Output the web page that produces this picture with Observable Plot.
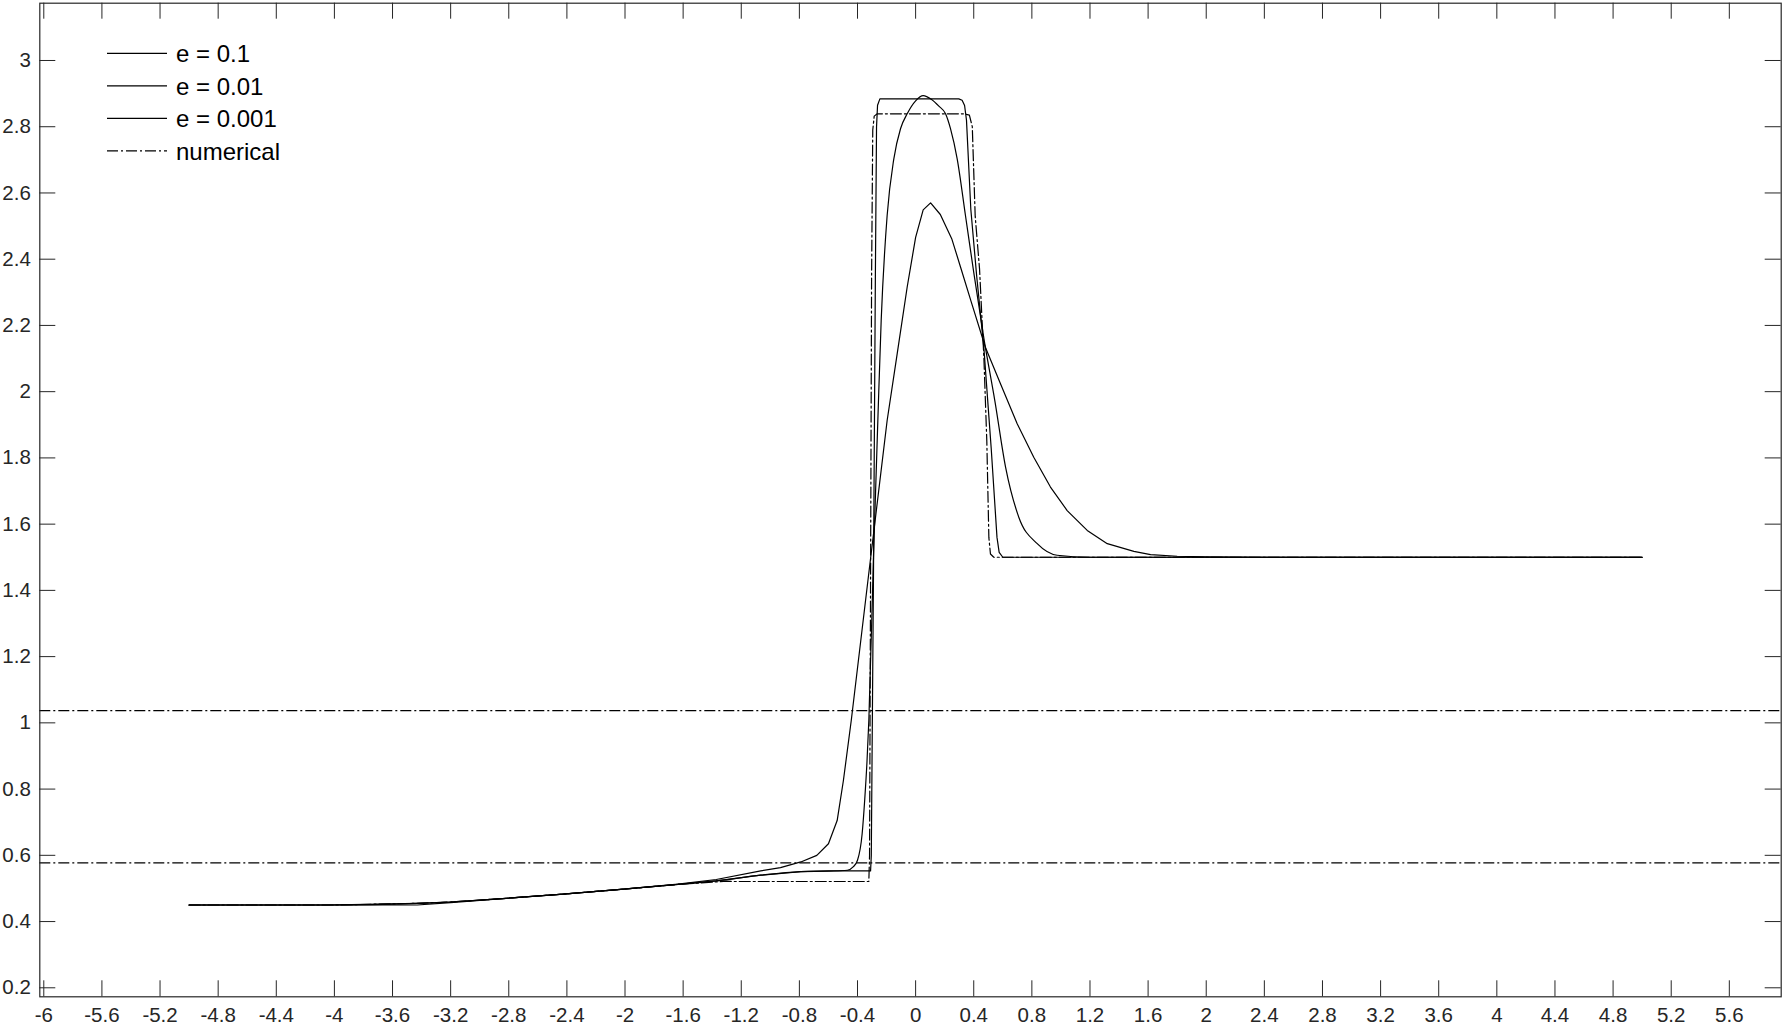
<!DOCTYPE html>
<html><head><meta charset="utf-8">
<script src="https://cdn.jsdelivr.net/npm/d3@7"></script>
<script src="https://cdn.jsdelivr.net/npm/@observablehq/plot@0.6"></script>
<style>
html,body{margin:0;padding:0;background:#fff;}
#wrap{position:relative;width:1784px;height:1029px;}
</style></head><body><div id="wrap"></div>
<script>
const xTicks = [-6,-5.6,-5.2,-4.8,-4.4,-4,-3.6,-3.2,-2.8,-2.4,-2,-1.6,-1.2,-0.8,-0.4,0,0.4,0.8,1.2,1.6,2,2.4,2.8,3.2,3.6,4,4.4,4.8,5.2,5.6];
const yTicks = [0.2,0.4,0.6,0.8,1,1.2,1.4,1.6,1.8,2,2.2,2.4,2.6,2.8,3];
const seriesNames = ["e = 0.1","e = 0.01","e = 0.001","numerical"];
const refLevels = [1.037, 0.5773];

const e01 = [[-5.0,0.450],[-4.06,0.450],[-3.43,0.455],[-3.2,0.459],[-2.82,0.470],[-2.425,0.483],[-2.03,0.497],[-1.635,0.513],[-1.372,0.527],[-1.066,0.553],[-0.93,0.563],[-0.79,0.580],[-0.68,0.600],[-0.6,0.635],[-0.54,0.705],[-0.497,0.826],[-0.443,1.007],[-0.32,1.46],[-0.196,1.913],[-0.127,2.114],[-0.058,2.316],[0.0,2.466],[0.052,2.549],[0.103,2.570],[0.17,2.535],[0.25,2.46],[0.31,2.375],[0.38,2.275],[0.48,2.134],[0.584,2.024],[0.699,1.903],[0.813,1.802],[0.928,1.712],[1.043,1.641],[1.181,1.581],[1.319,1.541],[1.502,1.518],[1.617,1.508],[1.8,1.503],[2.0,1.501],[2.4,1.5],[5.0,1.5]];

const e001 = [[-5.0,0.450],[-4.0,0.450],[-3.43,0.455],[-3.2,0.459],[-2.82,0.470],[-2.425,0.483],[-2.03,0.497],[-1.635,0.512],[-1.372,0.523],[-1.066,0.540],[-0.79,0.551],[-0.6,0.553],[-0.47,0.555],[-0.43,0.565],[-0.40,0.585],[-0.368,0.665],[-0.35,0.77],[-0.335,0.88],[-0.322,1.007],[-0.29,1.5],[-0.26,1.913],[-0.237,2.215],[-0.196,2.532],[-0.150,2.703],[-0.104,2.794],[-0.058,2.839],[0.0,2.878],[0.052,2.894],[0.11,2.882],[0.16,2.862],[0.206,2.839],[0.240,2.794],[0.286,2.703],[0.343,2.532],[0.40,2.36],[0.47,2.16],[0.545,1.973],[0.619,1.772],[0.71,1.621],[0.837,1.541],[0.974,1.506],[1.2,1.5],[5.0,1.5]];

const e0001 = [[-5.0,0.450],[-3.43,0.450],[-3.2,0.457],[-2.82,0.470],[-2.425,0.483],[-2.03,0.497],[-1.635,0.512],[-1.372,0.523],[-1.066,0.540],[-0.79,0.551],[-0.5,0.553],[-0.31,0.553],[-0.305,0.60],[-0.29,1.45],[-0.277,2.35],[-0.269,2.80],[-0.262,2.865],[-0.246,2.884],[0.297,2.884],[0.32,2.880],[0.337,2.864],[0.35,2.82],[0.38,2.55],[0.42,2.35],[0.47,2.13],[0.52,1.83],[0.56,1.56],[0.575,1.515],[0.60,1.5],[5.0,1.5]];

const numerical = [[-5.0,0.450],[-4.0,0.450],[-3.43,0.455],[-3.2,0.459],[-2.82,0.470],[-2.425,0.483],[-2.03,0.497],[-1.635,0.512],[-1.30,0.522],[-1.25,0.521],[-0.322,0.521],[-0.317,0.60],[-0.31,1.45],[-0.303,2.35],[-0.295,2.79],[-0.285,2.832],[-0.264,2.839],[0.332,2.839],[0.37,2.835],[0.39,2.80],[0.41,2.53],[0.44,2.37],[0.47,2.10],[0.49,1.85],[0.504,1.56],[0.515,1.51],[0.538,1.5],[5.0,1.5]];

const W = 1784, H = 1029, mL = 39.3, mR = 3.3, mT = 2.7, mB = 32.7;
const plotW = W - mL - mR, plotH = H - mT - mB;
const dash = "11,3,2,3";
const axisColor = "#262626";
const tickLen = 16;
const lw = 1.2;
const fx = d => d[0], fy = d => d[1];

const chart = Plot.plot({
  width: W, height: H,
  marginLeft: mL, marginRight: mR, marginTop: mT, marginBottom: mB,
  style: {fontFamily: "'Liberation Sans', Arial, sans-serif", fontSize: "20.5px", color: axisColor, background: "#fff"},
  x: {domain: [-6.0275, 5.957]},
  y: {domain: [0.1728, 3.173]},
  marks: [
    Plot.ruleY(refLevels, {y: d => d, stroke: "black", strokeWidth: lw, strokeDasharray: dash}),
    Plot.line(e01, {x: fx, y: fy, stroke: "black", strokeWidth: lw}),
    Plot.line(e001, {x: fx, y: fy, stroke: "black", strokeWidth: lw, curve: "monotone-x"}),
    Plot.line(e0001, {x: fx, y: fy, stroke: "black", strokeWidth: lw}),
    Plot.line(numerical, {x: fx, y: fy, stroke: "black", strokeWidth: lw, strokeDasharray: dash}),
    Plot.frame({stroke: axisColor, strokeWidth: 1.2}),
    Plot.tickX(xTicks, {x: d => d, insetTop: plotH - tickLen, stroke: axisColor}),
    Plot.tickX(xTicks, {x: d => d, insetBottom: plotH - tickLen, stroke: axisColor}),
    Plot.tickY(yTicks, {y: d => d, insetRight: plotW - tickLen, stroke: axisColor}),
    Plot.tickY(yTicks, {y: d => d, insetLeft: plotW - tickLen, stroke: axisColor}),
    Plot.axisX({ticks: xTicks, tickSize: 0, tickPadding: 11, tickFormat: d => String(d), label: null}),
    Plot.axisY({ticks: yTicks, tickSize: 0, tickPadding: 9, tickFormat: d => String(d), label: null})
  ]
});
document.getElementById("wrap").appendChild(chart);

// legend inside the axes (top-left), no box
const svg = d3.select(chart);
const leg = svg.append("g")
  .attr("font-family", "'Liberation Sans', Arial, sans-serif")
  .attr("font-size", "24px")
  .attr("text-anchor", "start");
seriesNames.forEach((name, i) => {
  const y = 53.3 + i * 32.5;
  leg.append("line").attr("x1", 107).attr("x2", 167).attr("y1", y).attr("y2", y)
    .attr("stroke", "black").attr("stroke-width", lw)
    .attr("stroke-dasharray", name === "numerical" ? dash : null);
  leg.append("text").attr("x", 176).attr("y", y + 9).attr("fill", "black")
    .attr("text-anchor", "start").text(name);
});
</script>
</body></html>
